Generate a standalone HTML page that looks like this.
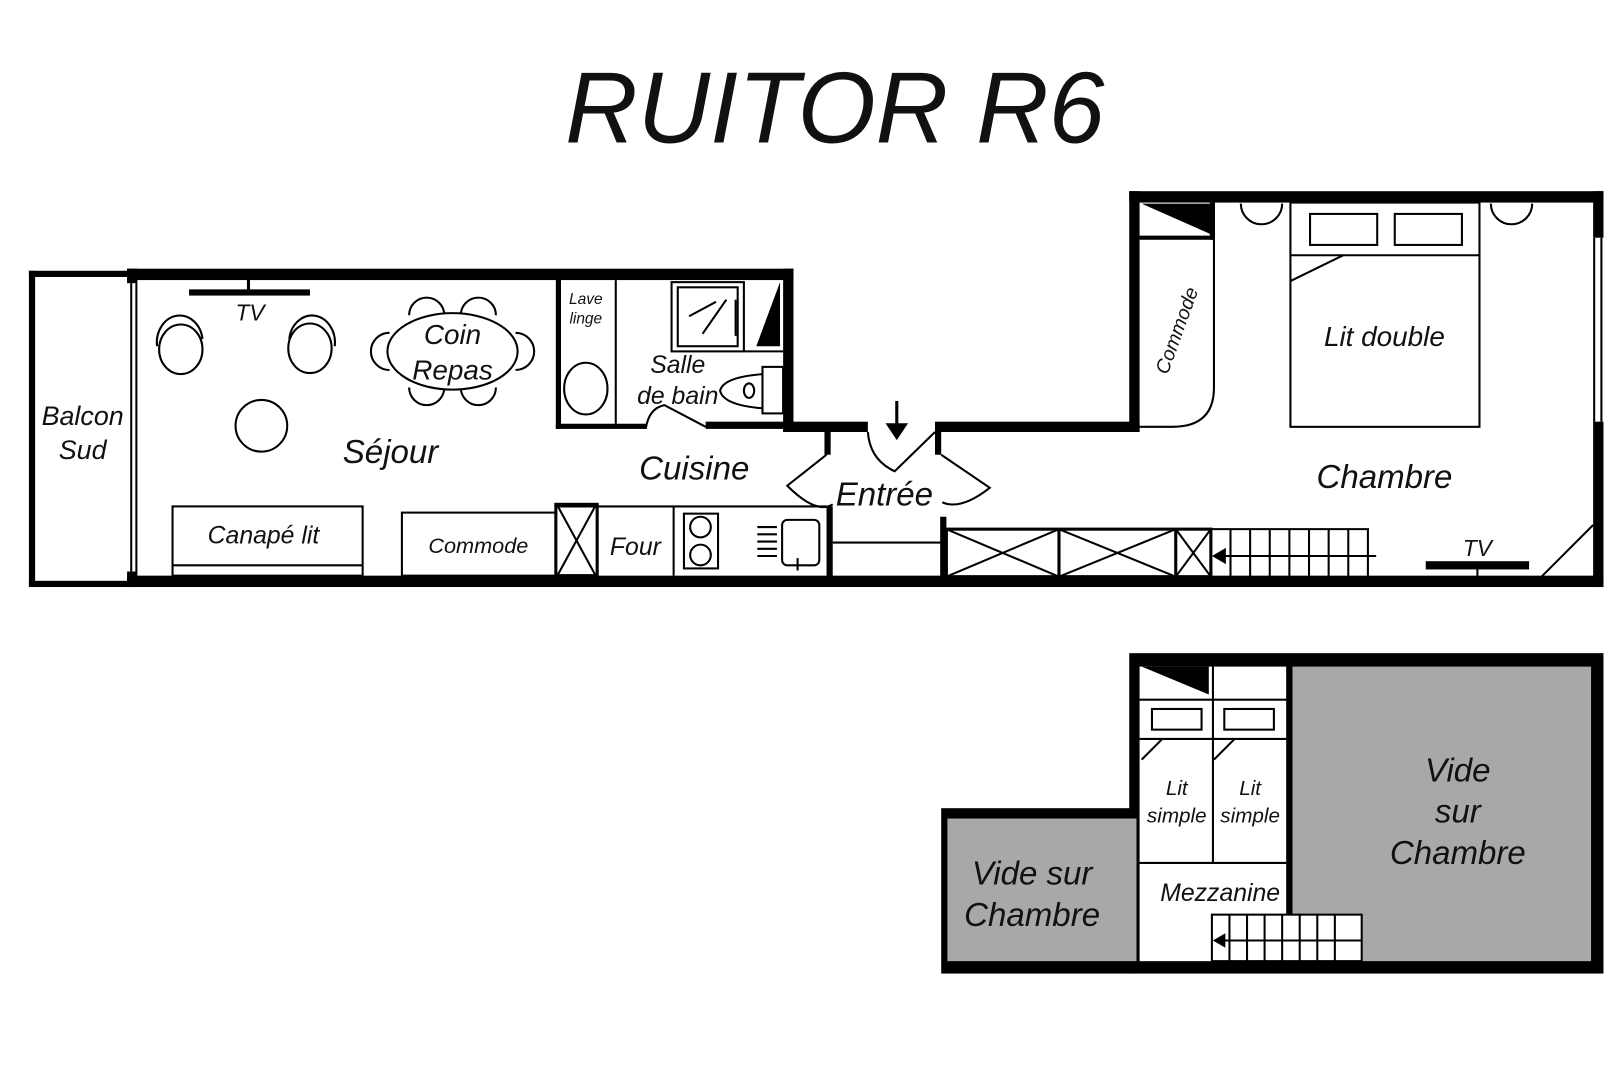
<!DOCTYPE html>
<html><head><meta charset="utf-8"><style>
html,body{margin:0;padding:0;background:#fff;}
svg{display:block;}
text{font-family:"Liberation Sans",sans-serif;font-style:italic;fill:#111;text-anchor:middle;}
</style></head><body>
<svg width="1620" height="1080" viewBox="0 0 1568 1045" preserveAspectRatio="none" xmlns="http://www.w3.org/2000/svg">
<rect width="1568" height="1045" fill="#fff"/>
<text x="808" y="138" font-size="98" textLength="522" lengthAdjust="spacingAndGlyphs" style="font-style:italic">RUITOR R6</text>

<g fill="#000">
<rect x="28" y="262" width="100" height="6"/>
<rect x="28" y="262" width="6" height="306"/>
<rect x="28" y="562" width="100" height="6"/>
<rect x="123" y="260" width="645" height="11"/>
<rect x="123" y="260" width="10" height="14"/>
<rect x="123" y="553" width="10" height="15"/>
<rect x="758" y="260" width="10" height="158"/>
<rect x="758" y="408" width="82" height="10"/>
<rect x="905" y="408" width="198" height="10"/>
<rect x="1093" y="185" width="10" height="233"/>
<rect x="1093" y="185" width="459" height="11"/>
<rect x="1542" y="185" width="10" height="45"/>
<rect x="1542" y="408" width="10" height="160"/>
<rect x="123" y="557" width="1429" height="11"/>
<rect x="538" y="270" width="5" height="145"/>
<rect x="538" y="410" width="87" height="5"/>
<rect x="683" y="408" width="80" height="7"/>
<polygon points="755,273 755,335 732,335"/>
<rect x="798" y="418" width="6" height="22"/>
<rect x="905" y="418" width="6" height="22"/>
<rect x="800" y="490" width="6" height="70"/>
<rect x="910" y="500" width="6" height="60"/>
<polygon points="1105,197 1175,197 1175,228"/>
<rect x="1103" y="228" width="72" height="4"/>
<rect x="1171" y="196" width="5" height="36"/>
<rect x="183" y="280" width="117" height="6"/>
<rect x="239" y="270" width="3" height="12"/>
<rect x="1380" y="543" width="100" height="8"/>
</g>

<g fill="none" stroke="#000" stroke-width="2">
<line x1="127" y1="274" x2="127" y2="553"/><line x1="132" y1="274" x2="132" y2="553"/>
<line x1="1543" y1="230" x2="1543" y2="408"/><line x1="1550" y1="230" x2="1550" y2="408"/>
<ellipse cx="175" cy="338" rx="21" ry="24"/><path d="M152 335 A22 26 0 0 1 196 328"/>
<ellipse cx="300" cy="337" rx="21" ry="24"/><path d="M280 328 A22 26 0 0 1 324 335"/>
<circle cx="253" cy="412" r="25"/>
<path d="M396 305 A17 17 0 0 1 430 305"/><path d="M446 305 A17 17 0 0 1 480 305"/>
<path d="M396 375 A17 17 0 0 0 430 375"/><path d="M446 375 A17 17 0 0 0 480 375"/>
<path d="M377 322 A18 18 0 0 0 377 358"/><path d="M499 322 A18 18 0 0 1 499 358"/>
<ellipse cx="438" cy="340" rx="63" ry="37" fill="#fff"/>
<line x1="596" y1="271" x2="596" y2="410"/>
<ellipse cx="567" cy="376" rx="21" ry="25"/>
<rect x="650" y="273" width="70" height="67"/><rect x="656" y="278" width="58" height="57"/>
<line x1="667" y1="306" x2="693" y2="292"/><line x1="680" y1="323" x2="703" y2="290"/><line x1="712" y1="290" x2="712" y2="325"/>
<line x1="720" y1="340" x2="758" y2="340"/>
<rect x="738" y="355" width="20" height="45"/>
<path d="M738 362 Q700 365 697 378 Q700 392 738 395"/><ellipse cx="725" cy="378" rx="5" ry="7"/>
<path d="M625 415 Q628 395 643 392 L683 413"/>
<path d="M800 440 L762 470 Q790 498 806 488"/>
<path d="M911 440 L958 472 Q930 494 912 486"/>
<path d="M840 418 Q842 445 866 456 L905 418"/>
<rect x="167" y="490" width="184" height="67"/><line x1="167" y1="547" x2="351" y2="547"/>
<rect x="389" y="496" width="149" height="61"/>
<rect x="538" y="488" width="40" height="69" stroke-width="3"/><line x1="540" y1="490" x2="576" y2="556"/><line x1="576" y1="490" x2="540" y2="556"/>
<line x1="538" y1="490" x2="800" y2="490"/>
<line x1="652" y1="490" x2="652" y2="557"/>
<rect x="662" y="497" width="33" height="53"/><circle cx="678" cy="510" r="10"/><circle cx="678" cy="537" r="10"/>
<line x1="733" y1="510" x2="752" y2="510"/><line x1="733" y1="517" x2="752" y2="517"/><line x1="733" y1="524" x2="752" y2="524"/><line x1="733" y1="531" x2="752" y2="531"/><line x1="733" y1="538" x2="752" y2="538"/>
<rect x="757" y="503" width="36" height="44" rx="5"/><line x1="772" y1="540" x2="772" y2="552"/>
<line x1="806" y1="525" x2="912" y2="525"/>
<rect x="916" y="512" width="256" height="46" stroke-width="3"/>
<line x1="1025" y1="512" x2="1025" y2="558" stroke-width="3"/><line x1="1138" y1="512" x2="1138" y2="558" stroke-width="3"/>
<line x1="916" y1="512" x2="1025" y2="558"/><line x1="1025" y1="512" x2="916" y2="558"/>
<line x1="1025" y1="512" x2="1138" y2="558"/><line x1="1138" y1="512" x2="1025" y2="558"/>
<line x1="1138" y1="512" x2="1172" y2="558"/><line x1="1172" y1="512" x2="1138" y2="558"/>
<line x1="1172" y1="512" x2="1325" y2="512"/>
<line x1="1185" y1="538" x2="1332" y2="538"/>
<path d="M1191 512V558M1210 512V558M1229 512V558M1248 512V558M1267 512V558M1286 512V558M1305 512V558M1324 512V558"/>
<line x1="1430" y1="551" x2="1430" y2="558"/>
<line x1="1492" y1="558" x2="1542" y2="508"/>
<path d="M1175 232 L1175 375 Q1175 413 1135 413 L1103 413"/>
<path d="M1201 197 A20 20 0 0 0 1241 197"/><path d="M1443 197 A20 20 0 0 0 1483 197"/>
<rect x="1249" y="196" width="183" height="217"/>
<line x1="1249" y1="247" x2="1432" y2="247"/>
<rect x="1268" y="207" width="65" height="30"/><rect x="1350" y="207" width="65" height="30"/>
<line x1="1249" y1="272" x2="1300" y2="247"/>
</g>
<g fill="#000" stroke="#000" stroke-width="3">
<line x1="868" y1="388" x2="868" y2="412"/>
<polygon points="858,410 878,410 868,425" stroke-width="1"/>
<polygon points="1174,538 1186,531 1186,545" stroke-width="1"/>
</g>

<text x="80" y="411" font-size="26">Balcon</text><text x="80" y="444" font-size="26">Sud</text>
<text x="242" y="310" font-size="22">TV</text>
<text x="438" y="333" font-size="27">Coin</text><text x="438" y="367" font-size="27">Repas</text>
<text x="567" y="294" font-size="15">Lave</text><text x="567" y="313" font-size="15">linge</text>
<text x="656" y="361" font-size="24">Salle</text><text x="656" y="391" font-size="24">de bain</text>
<text x="378" y="448" font-size="32">Séjour</text>
<text x="672" y="464" font-size="32">Cuisine</text>
<text x="856" y="489" font-size="32">Entrée</text>
<text x="255" y="526" font-size="24">Canapé lit</text>
<text x="463" y="535" font-size="21">Commode</text>
<text x="615" y="537" font-size="24">Four</text>
<text x="1430" y="538" font-size="22">TV</text>
<text x="1340" y="335" font-size="27">Lit double</text>
<text x="1340" y="472" font-size="32">Chambre</text>
<text x="0" y="0" font-size="19" transform="translate(1145,322) rotate(-70)">Commode</text>

<g fill="#000">
<rect x="911" y="782" width="192" height="160"/>
<rect x="1093" y="632" width="459" height="310"/>
</g>
<rect x="917" y="792" width="183" height="138" fill="#a8a8a8"/>
<rect x="1250" y="645" width="290" height="285" fill="#a8a8a8"/>
<rect x="1103" y="645" width="142" height="285" fill="#fff"/>
<rect x="1173" y="885" width="145" height="45" fill="#fff"/>
<polygon points="1105,645 1170,645 1170,672" fill="#000"/>
<g fill="none" stroke="#000" stroke-width="2">
<line x1="1103" y1="677" x2="1245" y2="677"/>
<line x1="1174" y1="645" x2="1174" y2="835"/>
<rect x="1115" y="686" width="48" height="20"/><rect x="1185" y="686" width="48" height="20"/>
<line x1="1103" y1="715" x2="1245" y2="715"/>
<line x1="1105" y1="735" x2="1125" y2="715"/><line x1="1175" y1="735" x2="1195" y2="715"/>
<line x1="1103" y1="835" x2="1245" y2="835"/>
<rect x="1173" y="885" width="145" height="45"/>
<line x1="1185" y1="910" x2="1318" y2="910"/>
<path d="M1190 885V930M1207 885V930M1224 885V930M1241 885V930M1258 885V930M1275 885V930M1292 885V930"/>
</g>
<rect x="1245" y="645" width="6" height="240" fill="#000"/>
<polygon points="1174,910 1186,903 1186,917" fill="#000"/>
<text x="1139" y="769" font-size="20">Lit</text><text x="1139" y="796" font-size="20">simple</text>
<text x="1210" y="769" font-size="20">Lit</text><text x="1210" y="796" font-size="20">simple</text>
<text x="1181" y="872" font-size="24">Mezzanine</text>
<text x="999" y="856" font-size="32">Vide sur</text><text x="999" y="896" font-size="32">Chambre</text>
<text x="1411" y="756" font-size="32">Vide</text><text x="1411" y="796" font-size="32">sur</text><text x="1411" y="836" font-size="32">Chambre</text>
</svg>
</body></html>
